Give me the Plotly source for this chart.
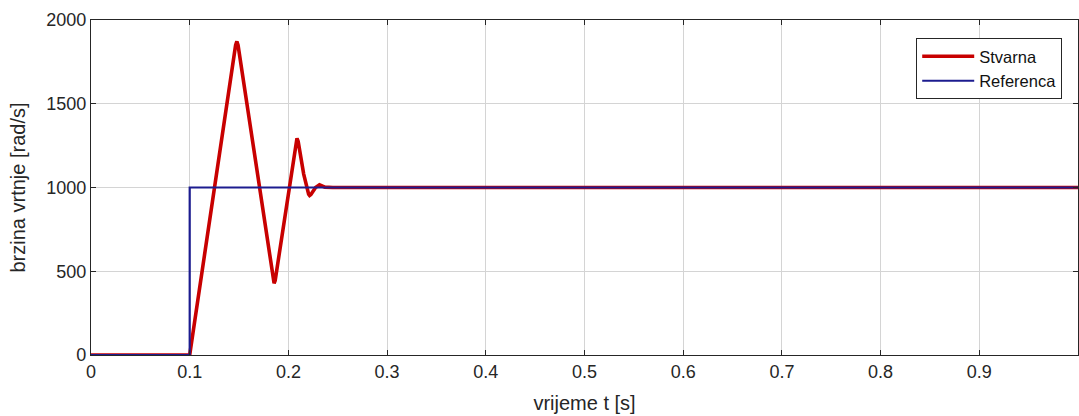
import plotly.graph_objects as go

# Data
t_ref = [0.0, 0.1, 0.1, 1.0]
w_ref = [0, 0, 1000, 1000]

t_act = [0.0, 0.1, 0.1465, 0.1478, 0.149, 0.1845, 0.1855, 0.1866,
         0.2075, 0.2087, 0.2099, 0.2155, 0.2205, 0.2215, 0.2228,
         0.2275, 0.2315, 0.2335, 0.237, 0.245, 1.0]
w_act = [0, 0, 1850, 1872, 1850, 445, 428, 445,
         1280, 1294, 1275, 1080, 960, 952, 958,
         1000, 1016, 1012, 1002, 1000, 1000]

FONT = "Liberation Sans, Arial"
TXT = "#262626"

fig = go.Figure()
fig.add_trace(go.Scatter(x=t_act, y=w_act, mode="lines", name="Stvarna",
                         line=dict(color="#c80000", width=3.6)))
fig.add_trace(go.Scatter(x=t_ref, y=w_ref, mode="lines", name="Referenca",
                         line=dict(color="#1c1c8f", width=2.2)))

axis_common = dict(showgrid=True, gridcolor="#d4d4d4", gridwidth=1,
                   showline=True, linecolor=TXT, linewidth=1.3,
                   mirror="ticks", ticks="inside", ticklen=5, tickcolor=TXT,
                   zeroline=False, automargin=False,
                   tickfont=dict(family=FONT, size=18, color=TXT))

fig.update_xaxes(range=[0, 1], tick0=0, dtick=0.1, **axis_common,
                 title=dict(text="vrijeme t [s]",
                            font=dict(family=FONT, size=20, color=TXT)))
fig.update_yaxes(range=[0, 2000], tick0=0, dtick=500, **axis_common,
                 title=dict(text="brzina vrtnje [rad/s]",
                            font=dict(family=FONT, size=20, color=TXT)))

fig.update_layout(width=1079, height=416,
                  margin=dict(l=91, r=1, t=20, b=61),
                  paper_bgcolor="white", plot_bgcolor="white",
                  showlegend=True,
                  legend=dict(x=0.984, y=0.946, xanchor="right", yanchor="top",
                              bgcolor="white", bordercolor=TXT, borderwidth=1,
                              font=dict(family=FONT, size=16.5, color="#111111"),
                              itemwidth=52, tracegroupgap=0))

fig.write_html("out.html", config={"displayModeBar": False},
               post_script="document.body.style.margin='0';document.body.style.overflow='hidden';")
